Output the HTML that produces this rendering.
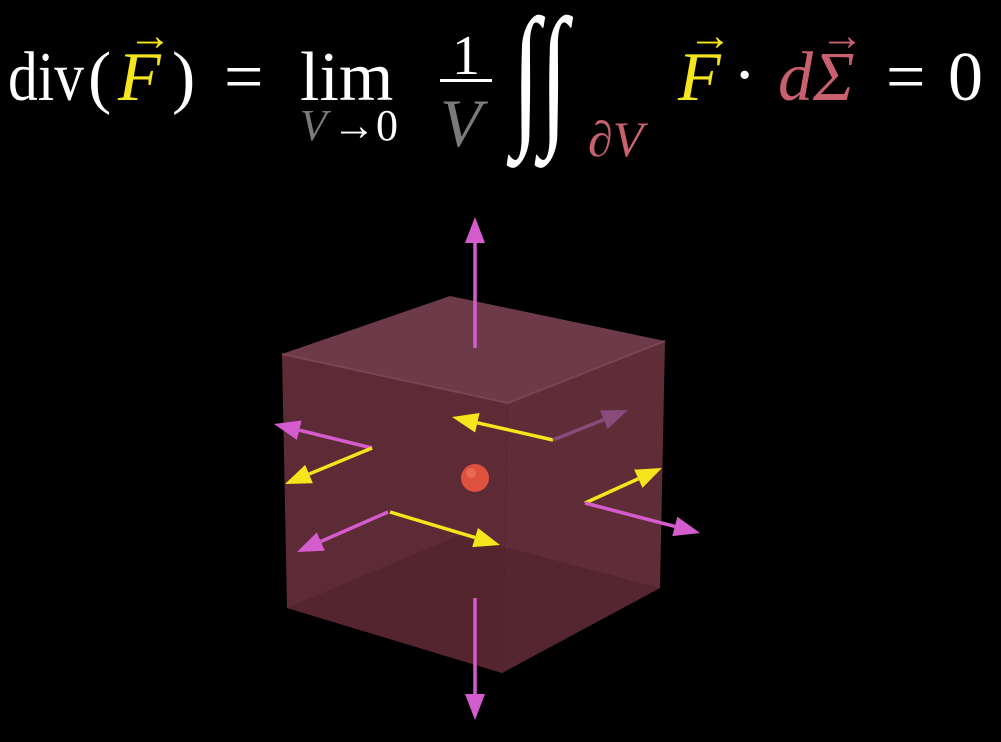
<!DOCTYPE html>
<html><head><meta charset="utf-8"><style>
html,body{margin:0;padding:0;background:#000;}
svg{display:block;}
text{font-family:"Liberation Serif",serif;}
</style></head><body>
<svg id="scene" width="1001" height="742" viewBox="0 0 1001 742" xmlns="http://www.w3.org/2000/svg">
<rect width="1001" height="742" fill="#000"/>
<g font-size="70" fill="#fff">
  <text x="8" y="100" textLength="76" lengthAdjust="spacingAndGlyphs">div</text>
  <text x="88" y="100">(</text>
  <text x="118" y="100" font-style="italic" fill="#f5e51c">F</text>
  <text x="128" y="50" font-size="44" fill="#f5e51c">→</text>
  <text x="172" y="100">)</text>
  <text x="224" y="100">=</text>
  <text x="300" y="100">lim</text>
  <text x="300" y="140" font-size="44" fill="#7a7a7a" font-style="italic">V</text>
  <text x="332" y="140" font-size="44" fill="#fff">→0</text>
  <text x="452" y="74" font-size="56">1</text>
  <rect x="440" y="79" width="52" height="3" fill="#fff"/>
  <text x="440" y="146" font-size="68" font-style="italic" fill="#7a7a7a">V</text>
  <text x="0" y="0" font-size="120" font-style="italic" transform="translate(512,126) scale(0.85,1.3)">∫∫</text>
  <text x="588" y="156" font-size="50" font-style="italic" fill="#c9606e">∂V</text>
  <text x="678" y="100" font-style="italic" fill="#f5e51c">F</text>
  <text x="688" y="50" font-size="44" fill="#f5e51c">→</text>
  <text x="733" y="98">·</text>
  <text x="778" y="100" font-style="italic" fill="#c9606e">dΣ</text>
  <text x="820" y="50" font-size="44" fill="#c9606e">→</text>
  <text x="886" y="100">=</text>
  <text x="948" y="100">0</text>
</g>
<g>
  <polygon points="282,354 450,296 665,341 508,403" fill="#6c3a48"/>
  <polygon points="282,354 508,403 502,673 287,608" fill="#5c2b35"/>
  <polygon points="508,403 665,341 660,588 502,673" fill="#5f2d38"/>
  <polygon points="287,608 460,535 660,588 502,673" fill="#4f2229" opacity="0.6"/>
  <polyline points="282,354 508,403 665,341" fill="none" stroke="#7a4553" stroke-width="2"/>
</g>
<g id="arrows"></g>
<circle cx="475" cy="478" r="14" fill="#e0503e"/>
<circle cx="471" cy="473" r="5" fill="#f07a62" opacity="0.6"/>
</svg>
<script>
const arrowNames = ["top-normal","bottom-normal","left-normal","left-field","back-field","back-normal","right-field","right-normal","front-normal","front-field"];
const arrowStart = [[475,348],[475,598],[372,448],[372,448],[553,440],[553,440],[585,503],[585,503],[388,512],[390,512]];
const arrowEnd = [[475,217],[475,720],[274,424],[285,484],[452,417],[628,410],[662,468],[700,533],[297,552],[500,545]];
const arrowColor = ["#d55ccc","#d55ccc","#d55ccc","#f5e51c","#f5e51c","#8a4a7a","#f5e51c","#d55ccc","#d55ccc","#f5e51c"];
const g = document.getElementById('arrows');
const NS = "http://www.w3.org/2000/svg";
for (let i = 0; i < arrowNames.length; i++) {
  const [x1,y1] = arrowStart[i], [x2,y2] = arrowEnd[i];
  const dx = x2-x1, dy = y2-y1, L = Math.hypot(dx,dy), ux = dx/L, uy = dy/L;
  const hl = 26, hw = 10;
  const bx = x2-ux*hl, by = y2-uy*hl;
  const line = document.createElementNS(NS,'line');
  line.setAttribute('x1',x1); line.setAttribute('y1',y1);
  line.setAttribute('x2',bx); line.setAttribute('y2',by);
  line.setAttribute('stroke',arrowColor[i]); line.setAttribute('stroke-width',3.5);
  
  
  g.appendChild(line);
  const head = document.createElementNS(NS,'polygon');
  head.setAttribute('points', `${x2},${y2} ${bx-uy*hw},${by+ux*hw} ${bx+uy*hw},${by-ux*hw}`);
  head.setAttribute('fill',arrowColor[i]);
  
  
  g.appendChild(head);
}
</script>
</body></html>
